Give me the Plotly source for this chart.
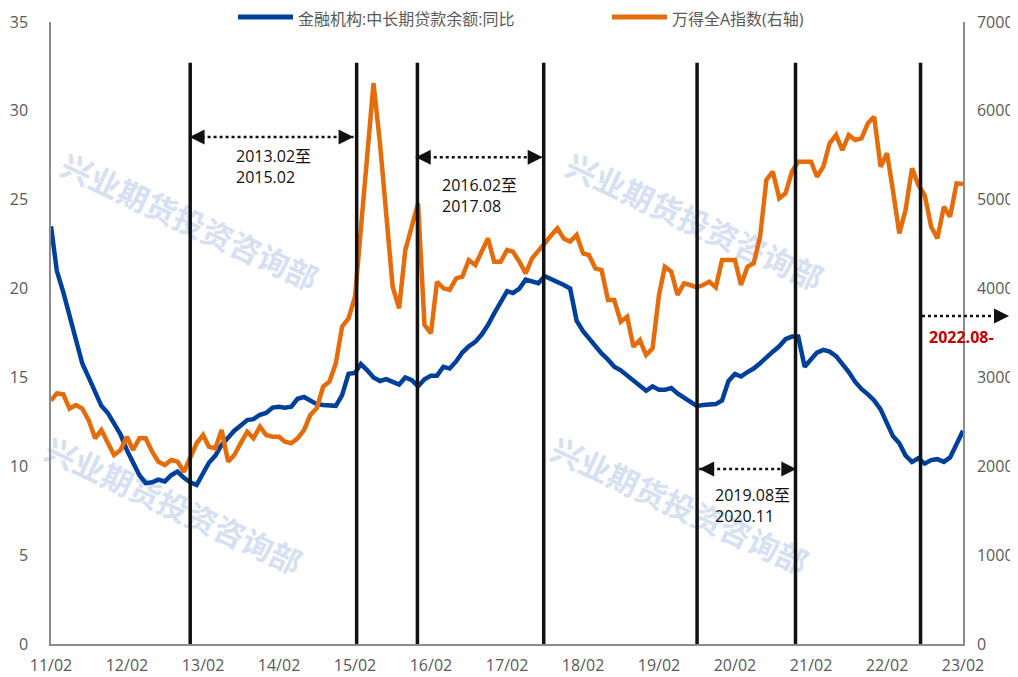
"""Mid/long-term loan growth vs Wind All-A index, with policy-window markers."""
import pandas as pd
import plotly.graph_objects as go

# monthly, 2011-02 .. 2023-02
months = pd.date_range("2011-02-01", "2023-02-01", freq="MS")

loan_yoy = [
    23.5, 21.0, 19.8, 18.4, 17.0, 15.8, 15.0, 14.2, 13.4, 13.0,
    12.4, 11.8, 10.9, 10.2, 9.5, 9.05, 9.1, 9.25, 9.15, 9.5,
    9.7, 9.35, 9.1, 8.95, 9.6, 10.2, 10.6, 11.2, 11.6, 12.0,
    12.3, 12.6, 12.65, 12.9, 13.0, 13.3, 13.35, 13.3, 13.35, 13.8,
    13.9, 13.7, 13.5, 13.45, 13.4, 13.4, 14.0, 15.2, 15.25, 15.75,
    15.4, 15.0, 14.8, 14.9, 14.75, 14.6, 15.0, 14.85, 14.5, 14.9,
    15.1, 15.1, 15.6, 15.5, 15.9, 16.4, 16.75, 17.0, 17.4, 17.95,
    18.6, 19.2, 19.85, 19.75, 20.0, 20.5, 20.4, 20.3, 20.7, 20.55,
    20.4, 20.2, 20.0, 18.2, 17.6, 17.2, 16.7, 16.35, 16.0, 15.6,
    15.4, 15.1, 14.8, 14.5, 14.25, 14.5, 14.3, 14.3, 14.4, 14.1,
    13.85, 13.65, 13.4, 13.45, 13.5, 13.5, 13.7, 14.8, 15.2, 15.05,
    15.3, 15.5, 15.8, 16.15, 16.45, 16.75, 17.15, 17.3, 17.3, 15.6,
    16.0, 16.4, 16.55, 16.45, 16.2, 15.8, 15.3, 14.75, 14.35, 14.05,
    13.7, 13.2, 12.4, 11.7, 11.3, 10.6, 10.25, 10.45, 10.15, 10.35,
    10.4, 10.25, 10.5, 11.3, 12.0,
]

wind_all_a = [
    2740, 2820, 2810, 2650, 2690, 2650, 2520, 2315, 2408, 2277,
    2127, 2183, 2333, 2183, 2315, 2315, 2164, 2052, 2014, 2071,
    2052, 1939, 2108, 2259, 2352, 2220, 2202, 2408, 2052, 2127,
    2260, 2389, 2315, 2446, 2352, 2333, 2333, 2277, 2259, 2315,
    2408, 2577, 2652, 2896, 2952, 3159, 3571, 3665, 3909, 4700,
    5500, 6310, 5635, 4830, 4021, 3778, 4434, 4700, 4960, 3590,
    3497, 4077, 4003, 3984, 4115, 4134, 4321, 4265, 4420, 4565,
    4302, 4302, 4434, 4415, 4302, 4171, 4340, 4434, 4510, 4600,
    4678, 4560, 4528, 4603, 4396, 4378, 4228, 4209, 3871, 3871,
    3627, 3684, 3346, 3421, 3252, 3327, 3928, 4246, 4190, 3928,
    4059, 4040, 4014, 4040, 4077, 4014, 4321, 4321, 4321, 4040,
    4246, 4284, 4584, 5222, 5315, 5016, 5072, 5315, 5428, 5428,
    5428, 5259, 5372, 5635, 5728, 5559, 5728, 5672, 5691, 5860,
    5934, 5372, 5522, 5109, 4622, 4884, 5353, 5165, 5053, 4696,
    4565, 4921, 4809, 5184, 5177,
]

tick_dates = pd.date_range("2011-02-01", "2023-02-01", freq="12MS")
tick_text = [d.strftime("%y/%m") for d in tick_dates]

# policy-window boundaries (as drawn on the original)
marker_dates = ["2012-12-01", "2015-02-09", "2015-11-28", "2017-07-27",
                "2019-08-03", "2020-11-18", "2022-07-12"]

# double arrows: (left tip, right tip, level on left axis)
spans = [
    ("2012-11-28", "2015-01-25", 28.53),
    ("2015-11-20", "2017-07-22", 27.39),
    ("2019-08-13", "2020-11-22", 9.85),
]
span_labels = ["2013.02至<br>2015.02", "2016.02至<br>2017.08", "2019.08至<br>2020.11"]

BLUE = "#00409a"
ORANGE = "#e46c0a"
AXIS = "#8c8c8c"
TXT = "#595959"
WM = "rgb(213,224,243)"
FONT = "Open Sans, Noto Sans CJK SC, sans-serif"

# plot-area geometry in screen px; the page body adds an 8px offset
OFF = 8
W, H = 1018 - OFF, 677 - OFF
L, R, T, B = 51, 963, 22, 644


def px(x):
    return (x - L) / (R - L)


def py(y):
    return (B - y) / (B - T)


fig = go.Figure()
fig.add_trace(go.Scatter(x=months, y=loan_yoy, mode="lines", name="金融机构:中长期贷款余额:同比",
                         line=dict(color=BLUE, width=4.5)))
fig.add_trace(go.Scatter(x=months, y=wind_all_a, mode="lines", name="万得全A指数(右轴)",
                         yaxis="y2", line=dict(color=ORANGE, width=4.5)))

shapes = []
annotations = []

# watermark, below the data
for cx, cy in [(188, 225), (693, 225), (172, 509), (678, 509)]:
    shapes.append(dict(
        type="rect", xref="paper", yref="paper", layer="below",
        x0=px(cx) - 0.01, x1=px(cx) + 0.01, y0=py(cy) - 0.01, y1=py(cy) + 0.01,
        line=dict(width=0), fillcolor="rgba(0,0,0,0)",
        label=dict(text="兴业期货投资咨询部", textangle=25, textposition="middle center",
                   font=dict(family="Noto Sans CJK SC", size=31, color=WM, weight="bold")),
    ))

for d in marker_dates:
    shapes.append(dict(type="line", xref="x", yref="y", x0=d, x1=d, y0=0, y1=32.7,
                       line=dict(color="#111111", width=3.5)))

for (a, b, lvl), lab in zip(spans, span_labels):
    shapes.append(dict(type="line", xref="x", yref="y", x0=a, x1=b, y0=lvl, y1=lvl,
                       line=dict(color="#111111", width=2.5, dash="3px,3px")))
    for tip, off in [(a, 15), (b, -15)]:
        annotations.append(dict(x=tip, y=lvl, xref="x", yref="y", ax=off, ay=0, text="",
                                showarrow=True, arrowhead=2, arrowsize=1.5, arrowwidth=2,
                                arrowcolor="#111111", standoff=0))

label_pos = [(234, 26.87), (440, 25.24), (713, 7.79)]
for (lx, ly), lab in zip(label_pos, span_labels):
    annotations.append(dict(x=px(lx), y=ly, xref="paper", yref="y", text=lab, showarrow=False,
                            xanchor="left", yanchor="middle", align="left",
                            font=dict(family=FONT, size=16, color="#111111")))

# open-ended window from 2022.08
shapes.append(dict(type="line", xref="paper", yref="y", x0=px(922), x1=px(995), y0=18.46, y1=18.46,
                   line=dict(color="#111111", width=2.5, dash="3px,3px")))
annotations.append(dict(x=px(1009), y=18.46, xref="paper", yref="y", ax=-15, ay=0, text="",
                        showarrow=True, arrowhead=2, arrowsize=1.5, arrowwidth=2,
                        arrowcolor="#111111", standoff=0))
annotations.append(dict(x=px(927), y=17.28, xref="paper", yref="y", text="<b>2022.08-</b>",
                        showarrow=False, xanchor="left", yanchor="middle",
                        font=dict(family=FONT, size=16, color="#c00000")))

# legend, drawn by hand to get the long line samples
for x0, x1, color, name in [(238, 293, BLUE, fig.data[0].name), (612, 667, ORANGE, fig.data[1].name)]:
    shapes.append(dict(type="line", xref="paper", yref="paper", x0=px(x0), x1=px(x1),
                       y0=py(17), y1=py(17), line=dict(color=color, width=5)))
    annotations.append(dict(x=px(x1 + 4), y=py(18.5), xref="paper", yref="paper", text=name,
                            showarrow=False, xanchor="left", yanchor="middle", borderpad=0,
                            font=dict(family=FONT, size=16, color=TXT)))

axis_common = dict(showgrid=False, zeroline=False, showline=True, linecolor=AXIS, linewidth=1.5,
                   ticks="", automargin=False, tickfont=dict(family=FONT, size=16, color=TXT))

fig.update_layout(
    width=W, height=H,
    margin=dict(l=L - OFF, r=W - (R - OFF), t=T - OFF, b=H - (B - OFF)),
    paper_bgcolor="white", plot_bgcolor="white",
    font=dict(family=FONT, size=16, color=TXT),
    showlegend=False,
    xaxis=dict(**axis_common, type="date", range=[months[0], months[-1]],
               tickvals=tick_dates, ticktext=tick_text, ticklabelstandoff=6),
    yaxis=dict(**axis_common, range=[0, 35], dtick=5, ticklabelstandoff=18),
    yaxis2=dict(**axis_common, range=[0, 7000], dtick=1000, overlaying="y", side="right",
                ticklabelstandoff=9),
    shapes=shapes,
    annotations=annotations,
)

fig.write_html("out.html")
